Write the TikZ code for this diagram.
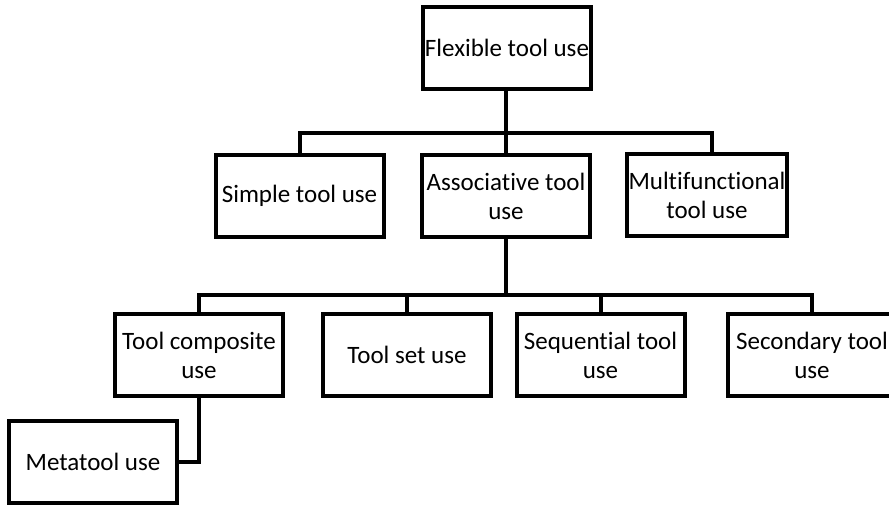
\documentclass[tikz,border=0pt]{standalone}
\usepackage{fontspec}
\setmainfont[Ligatures=NoCommon]{Carlito}
\begin{document}
\begin{tikzpicture}[x=1pt,y=-1pt,
  box/.style={draw=black,line width=4pt,fill=white,minimum width=168pt,minimum height=82pt,
    align=center,inner sep=2pt,font=\fontsize{25}{29}\selectfont},
  conn/.style={draw=black,line width=4pt,line join=miter}]
\useasboundingbox (0,0) rectangle (889,506);
\begin{scope}
\clip (0,0) rectangle (889,506);
\node[box] (top) at (507,48) {Flexible tool use};
\node[box] (simple) at (299.5,196) {Simple tool use};
\node[box] (assoc) at (506,196) {Associative tool\\use};
\node[box,minimum width=158pt] (multi) at (707,195) {Multifunctional\\tool use};
\node[box] (toolcomp) at (199,355) {Tool composite\\use};
\node[box] (toolset) at (407,355) {Tool set use};
\node[box] (seq) at (600.5,355) {Sequential tool\\use};
\node[box] (second) at (812,355) {Secondary tool\\use};
\node[box] (meta) at (93,461.5) {Metatool use};
\coordinate (b1) at (506,133);
\coordinate (m1) at (712,133);
\coordinate (b2) at (506,295);
\draw[conn] (top.south -| b1) -- (assoc.north);
\draw[conn] (simple.north) |- (m1) -- (m1 |- multi.north);
\draw[conn] (assoc.south) -- (b2);
\draw[conn] (toolcomp.north) |- (b2) -| (second.north);
\draw[conn] (toolset.north) -- (toolset.north |- b2);
\draw[conn] (seq.north) -- (seq.north |- b2);
\draw[conn] (toolcomp.south) |- (meta.east);
\end{scope}
\end{tikzpicture}
\end{document}
